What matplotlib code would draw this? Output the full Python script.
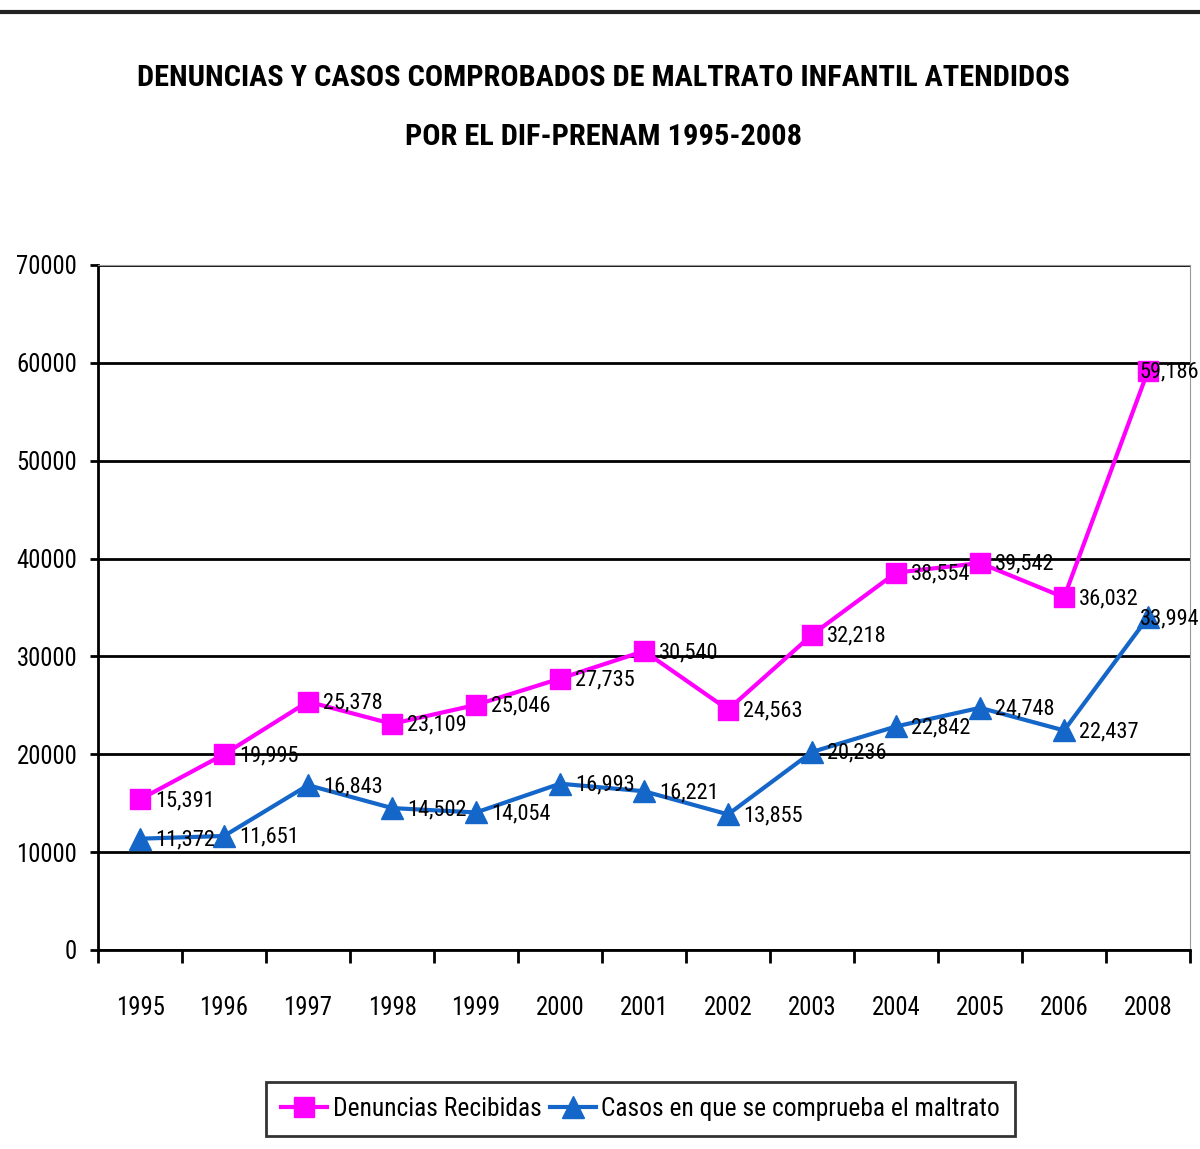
import matplotlib
matplotlib.use("Agg")
from matplotlib import pyplot as plt
from matplotlib import font_manager as fm
from matplotlib.lines import Line2D
import numpy as np

years = ["1995", "1996", "1997", "1998", "1999", "2000", "2001",
         "2002", "2003", "2004", "2005", "2006", "2008"]
denuncias = [15391, 19995, 25378, 23109, 25046, 27735, 30540,
             24563, 32218, 38554, 39542, 36032, 59186]
casos = [11372, 11651, 16843, 14502, 14054, 16993, 16221,
         13855, 20236, 22842, 24748, 22437, 33994]

# look for a narrow font, the original uses Arial Narrow
fonts = {(f.name, str(f.stretch)) for f in fm.fontManager.ttflist}
names = {n for n, s in fonts}
stretch = "normal"
if "Liberation Sans Narrow" in names:
    fam, k = "Liberation Sans Narrow", 1.2
elif "Roboto Condensed" in names:
    fam, k = "Roboto Condensed", 1.15
elif ("DejaVu Sans", "condensed") in fonts or ("DejaVu Sans", "semi-condensed") in fonts:
    fam, k, stretch = "DejaVu Sans", 1.05, "condensed"
else:
    fam, k = "Liberation Sans", 1.0

plt.rcParams['font.family'] = [fam, 'DejaVu Sans']
plt.rcParams['font.stretch'] = stretch

pink = "#FF00FF"
blue = "#1466C8"

fig = plt.figure(figsize=(12, 11.49), dpi=100)
ax = fig.add_axes([0.0817, 0.1732, 0.91, 0.5962])

x = np.arange(len(years))
ax.plot(x, denuncias, color=pink, lw=3, marker="s", ms=15, label="Denuncias Recibidas")
ax.plot(x, casos, color=blue, lw=3, marker="^", ms=16, label="Casos en que se comprueba el maltrato")

# value labels right of each point; the last one sits over its marker like the original
last = len(years) - 1
for serie in (denuncias, casos):
    for xi, v in zip(x, serie):
        dx = 11 if xi < last else -6
        ax.annotate("{:,}".format(v), (xi, v), xytext=(dx, -1), textcoords="offset points",
                    va="center", ha="left", fontsize=14 * k, color="black",
                    annotation_clip=False, zorder=5)

ax.set_xlim(-0.5, len(years) - 0.5)
ax.set_ylim(0, 70000)
ax.set_yticks(np.arange(0, 70001, 10000))
ax.set_yticklabels([str(v) for v in range(0, 70001, 10000)], fontsize=15.5 * k)
ax.yaxis.grid(True, color="black", lw=2)
ax.tick_params(axis="y", length=6, width=2, pad=9)

ax.set_xticks(np.arange(-0.5, len(years), 1.0))
ax.set_xticklabels([])
ax.tick_params(axis="x", which="major", length=9, width=2, direction="out")
ax.set_xticks(x, minor=True)
ax.set_xticklabels(years, minor=True, fontsize=15.5 * k)
ax.tick_params(axis="x", which="minor", length=0, pad=33)

for s in ["left", "bottom"]:
    ax.spines[s].set_linewidth(2)
ax.spines["top"].set_color("#999999")
ax.spines["right"].set_color("#999999")

fig.text(0.503, 0.932, "DENUNCIAS Y CASOS COMPROBADOS DE MALTRATO INFANTIL ATENDIDOS",
         ha="center", va="center", fontsize=19 * k, fontweight="bold")
fig.text(0.503, 0.881, "POR EL DIF-PRENAM 1995-2008",
         ha="center", va="center", fontsize=19 * k, fontweight="bold")

fig.add_artist(Line2D([0, 1], [0.9895, 0.9895], color="#222222", lw=3, transform=fig.transFigure))

leg = fig.legend(loc="center", bbox_to_anchor=(0.534, 0.0348), ncol=2, fontsize=16 * k,
                 frameon=True, fancybox=False, edgecolor="black", handlelength=1.8,
                 handletextpad=0.2, columnspacing=0.35, borderpad=0.6,
                 borderaxespad=0)
leg.get_frame().set_linewidth(2)

fig.savefig("out.png", dpi=100)
